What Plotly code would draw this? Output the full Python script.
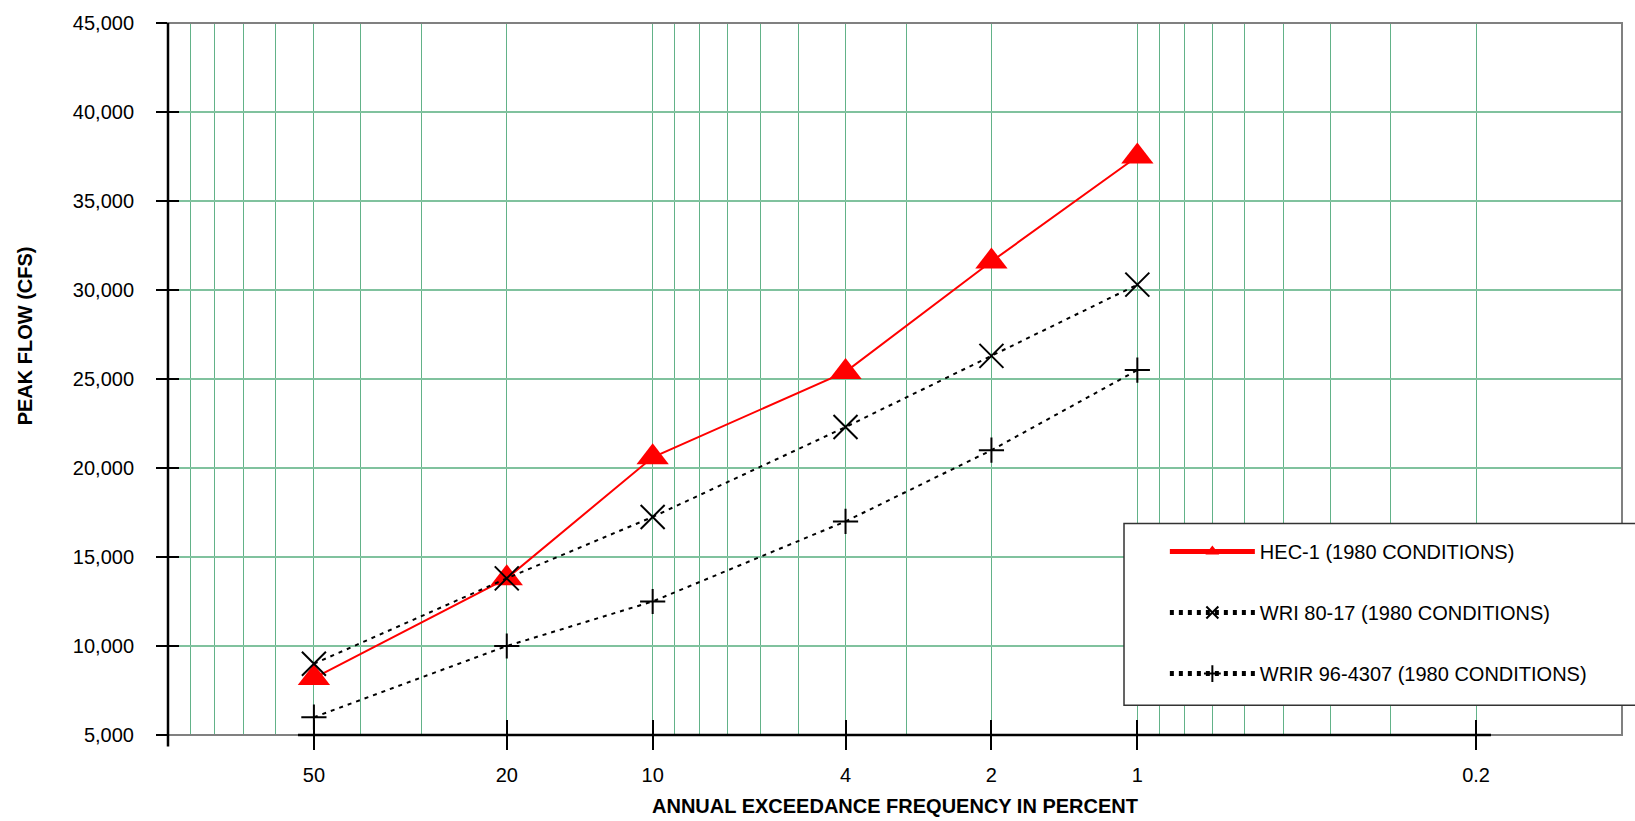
import plotly.graph_objects as go

# ---- data ----
freq_pct = [50, 20, 10, 4, 2, 1]                      # annual exceedance frequency (%)
hec1 = [8200, 13800, 20600, 25400, 31600, 37500]      # HEC-1 (1980 CONDITIONS)
wri_80_17 = [9000, 13800, 17250, 22300, 26300, 30300] # WRI 80-17 (1980 CONDITIONS)
wrir_96_4307 = [6000, 10000, 12500, 17000, 21000, 25500]  # WRIR 96-4307 (1980 CONDITIONS)

x_tick_vals = [50, 20, 10, 4, 2, 1, 0.2]
x_tick_text = ["50", "20", "10", "4", "2", "1", "0.2"]
x_grid_vals = [90, 80, 70, 60, 50, 40, 30, 20, 10, 9, 8, 7, 6, 5, 4, 3, 2, 1,
               0.9, 0.8, 0.7, 0.6, 0.5, 0.4, 0.3, 0.2]
y_tick_vals = [5000, 10000, 15000, 20000, 25000, 30000, 35000, 40000, 45000]

FONT = "Liberation Sans, Arial, sans-serif"
VGRID = "rgb(98,178,136)"
HGRID = "rgb(128,194,158)"
FRAME = "rgb(128,128,128)"

fig = go.Figure()

fig.add_trace(go.Scatter(
    x=freq_pct, y=hec1, name="HEC-1 (1980 CONDITIONS)", legendgroup="a",
    mode="lines+markers",
    line=dict(color="red", width=2),
    marker=dict(symbol="triangle-up", size=28, color="red"),
))
fig.add_trace(go.Scatter(
    x=freq_pct, y=wri_80_17, name="WRI 80-17 (1980 CONDITIONS)", legendgroup="b",
    mode="lines+markers",
    line=dict(color="black", width=2, dash="4px,5px"),
    marker=dict(symbol="x-thin", size=24, color="black",
                line=dict(color="black", width=2)),
))
fig.add_trace(go.Scatter(
    x=freq_pct, y=wrir_96_4307, name="WRIR 96-4307 (1980 CONDITIONS)", legendgroup="c",
    mode="lines+markers",
    line=dict(color="black", width=2, dash="4px,5px"),
    marker=dict(symbol="cross-thin", size=18, color="black",
                line=dict(color="black", width=2)),
))
# invisible helper trace carrying the overlay axes (inner half of crossing ticks)
fig.add_trace(go.Scatter(
    x=freq_pct, y=wrir_96_4307, xaxis="x2", yaxis="y2", mode="markers",
    marker=dict(opacity=0), showlegend=False, hoverinfo="skip",
))

xr = [2, -1]          # log10(100) .. log10(0.1), reversed
yr = [5000, 45000]

fig.update_layout(
    width=1635, height=821,
    margin=dict(l=168, r=13, t=18, b=86),
    paper_bgcolor="white", plot_bgcolor="white",
    font=dict(family=FONT, size=20, color="black"),
    showlegend=True,
    legend=dict(
        x=0.6856, y=0.285, xanchor="left", yanchor="top",
        bgcolor="rgba(0,0,0,0)", borderwidth=0,
        font=dict(family=FONT, size=20, color="black"),
        itemwidth=85, itemsizing="constant",
        tracegroupgap=32, traceorder="grouped",
    ),
    xaxis=dict(
        type="log", range=xr, tickmode="array",
        tickvals=x_tick_vals, ticktext=x_tick_text,
        ticks="outside", ticklen=14, tickwidth=2, tickcolor="black",
        showgrid=True, gridcolor=VGRID, gridwidth=1,
        minor=dict(tickmode="array", tickvals=x_grid_vals, showgrid=True,
                   gridcolor=VGRID, gridwidth=1, ticks=""),
        showline=False, zeroline=False,
        tickfont=dict(family=FONT, size=20, color="black"),
        ticklabelstandoff=8,
    ),
    yaxis=dict(
        range=yr, tickmode="array", tickvals=y_tick_vals, tickformat=",d",
        ticks="outside", ticklen=11, tickwidth=2, tickcolor="black",
        showgrid=True, gridcolor=HGRID, gridwidth=2,
        showline=False, zeroline=False,
        tickfont=dict(family=FONT, size=20, color="black"),
        ticklabelstandoff=18,
    ),
    xaxis2=dict(
        type="log", range=xr, overlaying="x", anchor="y2", side="bottom",
        tickmode="array", tickvals=x_tick_vals, showticklabels=False,
        ticks="inside", ticklen=15, tickwidth=2, tickcolor="black",
        showgrid=False, showline=False, zeroline=False,
    ),
    yaxis2=dict(
        range=yr, overlaying="y", anchor="x2", side="left",
        tickmode="array", tickvals=y_tick_vals, showticklabels=False,
        ticks="inside", ticklen=11, tickwidth=2, tickcolor="black",
        showgrid=False, showline=False, zeroline=False,
    ),
    shapes=[
        # plot frame
        dict(type="rect", xref="paper", yref="paper", x0=0, x1=1, y0=0, y1=1,
             line=dict(color=FRAME, width=2), layer="above"),
        # legend box (extends past the right edge as in the reference)
        dict(type="rect", xref="paper", yref="paper", x0=0.6575, x1=1.02,
             y0=0.0418, y1=0.2971, fillcolor="white",
             line=dict(color="#333333", width=1.5), layer="above"),
        # black y-axis line
        dict(type="line", xref="paper", yref="paper", x0=0, x1=0,
             y0=-0.016, y1=1, line=dict(color="black", width=2.5), layer="above"),
        # black x-axis line segment
        dict(type="line", xref="paper", yref="paper", x0=0.0894, x1=0.9099,
             y0=0, y1=0, line=dict(color="black", width=2.5), layer="above"),
    ],
    annotations=[
        dict(text="<b>PEAK FLOW (CFS)</b>", xref="paper", yref="paper",
             x=-0.0983, y=0.560, textangle=-90, showarrow=False,
             xanchor="center", yanchor="middle",
             font=dict(family=FONT, size=20, color="black")),
        dict(text="<b>ANNUAL EXCEEDANCE FREQUENCY IN PERCENT</b>", xref="paper",
             yref="paper", x=0.5, y=-0.1004, showarrow=False,
             xanchor="center", yanchor="middle",
             font=dict(family=FONT, size=20, color="black")),
    ],
)

fig.write_html("out.html",
               config={"displayModeBar": False},
               post_script="document.body.style.margin='0';document.body.style.overflow='hidden';")
